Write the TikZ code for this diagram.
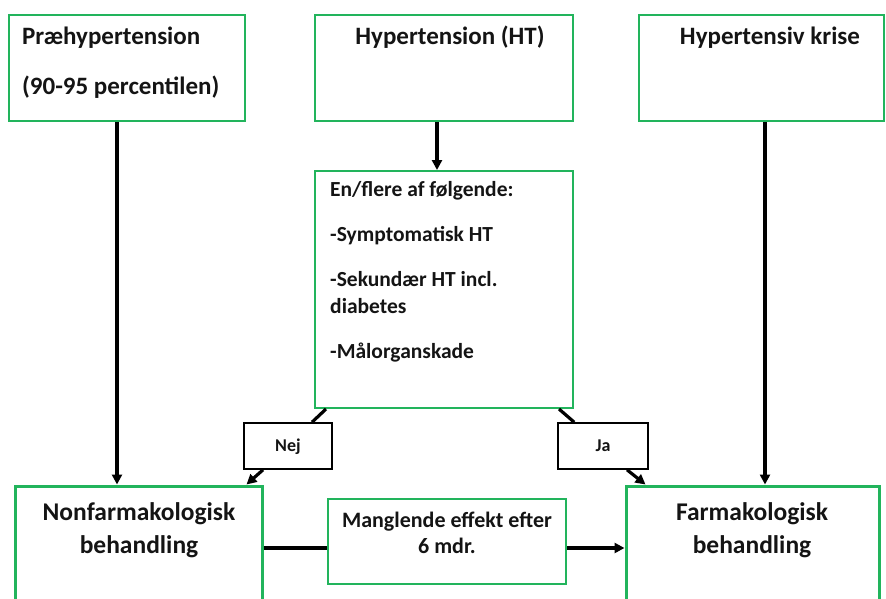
\documentclass[tikz,border=0pt]{standalone}
\usepackage{fontspec}
\setmainfont{Carlito}
\usetikzlibrary{arrows.meta,calc}
\definecolor{cBox}{HTML}{22B45C}
\definecolor{cInk}{HTML}{141414}
\tikzset{
  every node/.style={text=cInk},
  gbox/.style={draw=cBox, line width=2pt, inner sep=0pt},
  gboxw/.style={gbox, line width=3pt},
  tag/.style={draw=black, line width=1.6pt, inner sep=0pt, minimum width=88pt, minimum height=46pt},
  txt/.style={inner sep=0pt, font=\bfseries\fontsize{25}{50}\selectfont},
  arr/.style={-{Triangle[length=10pt,width=10pt]}, line width=3.2pt},
  ln/.style={line width=3.2pt},
}
\begin{document}
\begin{tikzpicture}[x=1pt,y=-1pt]
\useasboundingbox (0,0) rectangle (886,599);
% boxes
\node[gbox, minimum width=236pt, minimum height=106pt] (pre) at (127,68) {};
\node[gbox, minimum width=258pt, minimum height=106pt] (ht) at (444,68) {};
\node[gbox, minimum width=245pt, minimum height=106pt] (krise) at (761.5,68) {};
\node[gbox, minimum width=258pt, minimum height=237pt] (mid) at (444,289.5) {};
\node[tag] (nej) at (288,446) {};
\node[tag, minimum width=90pt] (ja) at (603,446) {};
\node[gboxw, minimum width=247pt, minimum height=134pt] (nonf) at (138.5,553) {};
\node[gboxw, minimum width=253pt, minimum height=134pt] (farm) at (752.5,553) {};
\node[gbox, minimum width=238pt, minimum height=85pt] (mangl) at (447,541.5) {};
% texts (base = last line)
\node[txt, anchor=base west, align=left] (pretxt) at (22,95) {Præhypertension\\(90-95 percentilen)};
\node[txt, anchor=base] (httxt) at (450,45) {Hypertension (HT)};
\node[txt, anchor=base] (krisetxt) at (770,45) {Hypertensiv krise};
\node[txt, anchor=base west, align=left, font=\bfseries\fontsize{21.5}{27}\selectfont] (midtxt) at (330,358)
  {En/flere af følgende:\\[18pt]-Symptomatisk HT\\[18pt]-Sekundær HT incl.\\diabetes\\[18pt]-Målorganskade};
\node[txt, anchor=base, font=\bfseries\fontsize{18}{20}\selectfont] (nejtxt) at (288,451) {Nej};
\node[txt, anchor=base, font=\bfseries\fontsize{18}{20}\selectfont] (jatxt) at (603,451) {Ja};
\node[txt, anchor=base, align=center, font=\bfseries\fontsize{25.5}{33}\selectfont] (nonftxt) at (139,553) {Nonfarmakologisk\\behandling};
\node[txt, anchor=base, align=center, font=\bfseries\fontsize{25.5}{33}\selectfont] (farmtxt) at (752,553) {Farmakologisk\\behandling};
\node[txt, anchor=base, align=center, font=\bfseries\fontsize{22}{26}\selectfont] (mangltxt) at (447,553) {Manglende effekt efter\\6 mdr.};
% connectors
\draw[arr] ([xshift=-10pt]pre.south) -- ([xshift=-10pt]pre.south |- nonf.north);
\draw[arr] ([xshift=-7pt]ht.south) -- ([xshift=-7pt]ht.south |- mid.north);
\draw[arr] ([xshift=3.5pt]krise.south) -- ([xshift=3.5pt]krise.south |- farm.north);
\draw[ln] ([xshift=12pt]mid.south west) -- ([xshift=24pt]nej.north);
\draw[arr] ([xshift=-25pt]nej.south) -- ([xshift=-17pt]nonf.north east);
\draw[ln] ([xshift=-15pt]mid.south east) -- ([xshift=17pt]ja.north west);
\draw[arr] ([xshift=24pt]ja.south) -- ([xshift=21pt]farm.north west);
\draw[ln] ([yshift=-6.5pt]mangl.west -| nonf.east) -- ([yshift=-6.5pt]mangl.west);
\draw[arr] ([yshift=-6.5pt]mangl.east) -- ([yshift=-6.5pt]mangl.east -| farm.west);
\end{tikzpicture}
\end{document}
